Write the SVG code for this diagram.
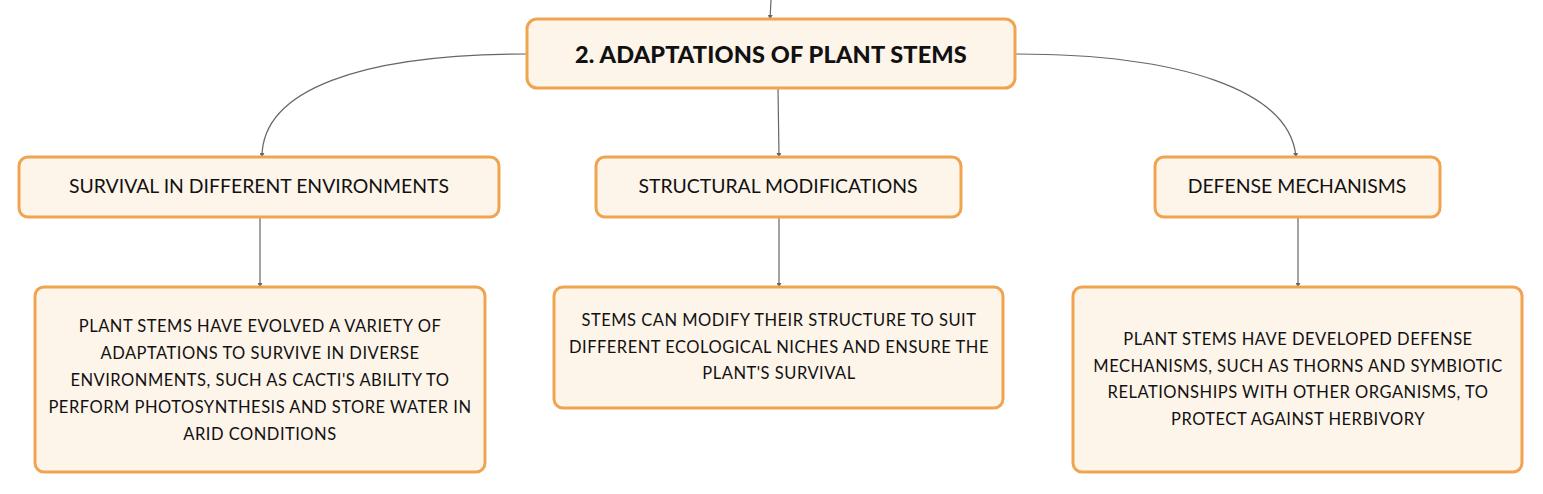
<svg xmlns="http://www.w3.org/2000/svg" width="1543" height="494" viewBox="0 0 1543 494">
<defs>
<style>
.box{fill:#fdf4ea;stroke:#f0a450;stroke-width:3}
.t{font-family:Lato,"Noto Sans","Liberation Sans",sans-serif;fill:#111;text-anchor:middle}
.root{font-size:23.5px;font-weight:900;letter-spacing:0.15px}
.mid{font-size:19.4px}
.leaf{font-size:16.5px;letter-spacing:0.5px}
.c{fill:none;stroke:#666;stroke-width:1.2;marker-end:url(#a)}
</style>
<marker id="a" viewBox="0 0 6 6" refX="5" refY="3" markerWidth="5" markerHeight="5" orient="auto" markerUnits="userSpaceOnUse">
<path d="M0,0L6,3L0,6z" fill="#666"/>
</marker>
</defs>
<rect width="1543" height="494" fill="#fff"/>
<g id="connectors">
<path class="c" d="M771,0L770,19"/>
<path class="c" d="M527,54C360,54 262,90 262,157"/>
<path class="c" d="M778,88L779,157"/>
<path class="c" d="M1015,54C1180,54 1290,90 1296,157"/>
<path class="c" d="M260,217L260,287"/>
<path class="c" d="M779,217L779,287"/>
<path class="c" d="M1298,217L1298,287"/>
</g>
<g id="root">
<rect class="box" x="527" y="19" width="488" height="69" rx="10"/>
<text class="t root" x="771" y="62.5">2. ADAPTATIONS OF PLANT STEMS</text>
</g>
<g id="survival">
<rect class="box" x="19" y="157" width="480" height="60" rx="9"/>
<text class="t mid" x="259" y="193">SURVIVAL IN DIFFERENT ENVIRONMENTS</text>
</g>
<g id="structural">
<rect class="box" x="596" y="157" width="365" height="60" rx="9"/>
<text class="t mid" x="778" y="193">STRUCTURAL MODIFICATIONS</text>
</g>
<g id="defense">
<rect class="box" x="1155" y="157" width="285" height="60" rx="9"/>
<text class="t mid" x="1297" y="193">DEFENSE MECHANISMS</text>
</g>
<g id="survival-detail">
<rect class="box" x="35" y="287" width="450" height="185" rx="9"/>
<text class="t leaf" x="260" y="332">PLANT STEMS HAVE EVOLVED A VARIETY OF</text>
<text class="t leaf" x="260" y="359">ADAPTATIONS TO SURVIVE IN DIVERSE</text>
<text class="t leaf" x="260" y="386">ENVIRONMENTS, SUCH AS CACTI'S ABILITY TO</text>
<text class="t leaf" x="260" y="413">PERFORM PHOTOSYNTHESIS AND STORE WATER IN</text>
<text class="t leaf" x="260" y="440">ARID CONDITIONS</text>
</g>
<g id="structural-detail">
<rect class="box" x="554" y="287" width="449" height="121" rx="9"/>
<text class="t leaf" x="779" y="326">STEMS CAN MODIFY THEIR STRUCTURE TO SUIT</text>
<text class="t leaf" x="779" y="353">DIFFERENT ECOLOGICAL NICHES AND ENSURE THE</text>
<text class="t leaf" x="779" y="379">PLANT'S SURVIVAL</text>
</g>
<g id="defense-detail">
<rect class="box" x="1073" y="287" width="449" height="185" rx="9"/>
<text class="t leaf" x="1298" y="345">PLANT STEMS HAVE DEVELOPED DEFENSE</text>
<text class="t leaf" x="1298" y="372">MECHANISMS, SUCH AS THORNS AND SYMBIOTIC</text>
<text class="t leaf" x="1298" y="398">RELATIONSHIPS WITH OTHER ORGANISMS, TO</text>
<text class="t leaf" x="1298" y="425">PROTECT AGAINST HERBIVORY</text>
</g>
</svg>
